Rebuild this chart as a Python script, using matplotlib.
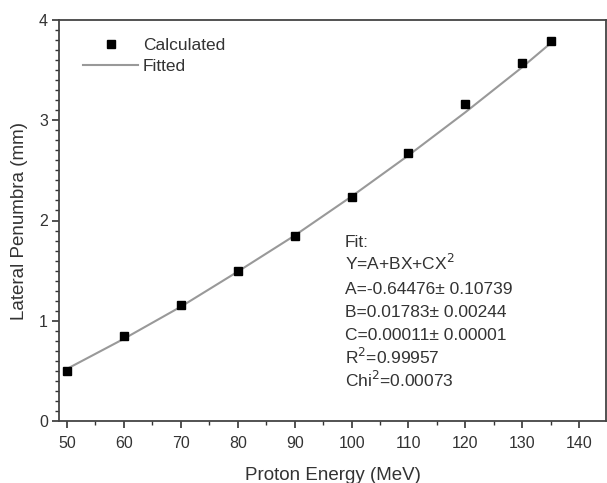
import numpy as np
import matplotlib; matplotlib.use("Agg"); import matplotlib.pyplot as plt
from matplotlib.ticker import MultipleLocator
from matplotlib.lines import Line2D

plt.rcParams["font.family"] = ["Liberation Sans", "DejaVu Sans"]

# calculated points
energy = [50, 60, 70, 80, 90, 100, 110, 120, 130, 135]
penumbra = [0.50, 0.85, 1.16, 1.50, 1.85, 2.23, 2.67, 3.16, 3.57, 3.79]
# fitted curve
fit_e = [50, 60, 70, 80, 90, 100, 110, 120, 130, 135]
fit_p = [0.52, 0.82, 1.14, 1.49, 1.85, 2.24, 2.65, 3.08, 3.53, 3.77]
fit_lines = ["Fit:", r"Y=A+BX+CX$^2$", "A=-0.64476\u00b1 0.10739", "B=0.01783\u00b1 0.00244",
             "C=0.00011\u00b1 0.00001", r"R$^2$=0.99957", r"Chi$^2$=0.00073"]

W, H = 607, 483
fig = plt.figure(figsize=(W/100, H/100), dpi=100)
ax = fig.add_axes([59/W, 1-421/H, 547/W, 401/H])
tc = "#333333"
ax.plot(fit_e, fit_p, color="#999999", lw=1.5, zorder=2)
ax.plot(energy, penumbra, "s", color="black", ms=5.5, zorder=3)
ax.set_xlim(48.6, 144.7); ax.set_ylim(0, 4)
ax.xaxis.set_major_locator(MultipleLocator(10)); ax.xaxis.set_minor_locator(MultipleLocator(5))
ax.yaxis.set_major_locator(MultipleLocator(1)); ax.yaxis.set_minor_locator(MultipleLocator(0.1))
ax.tick_params(which="major", direction="out", length=5, width=1.2, labelsize=11.5, colors=tc, pad=3)
ax.tick_params(axis="x", which="major", pad=6)
ax.tick_params(which="minor", direction="out", length=3, width=1, colors=tc)
for s in ax.spines.values():
    s.set_linewidth(1.3); s.set_color("#444444")
ax.set_xlabel("Proton Energy (MeV)", fontsize=13.5, color=tc, labelpad=11)
ax.set_ylabel("Lateral Penumbra (mm)", fontsize=13.5, color=tc, labelpad=8)

handles = [Line2D([], [], marker="s", ls="none", color="black", ms=6),
           Line2D([], [], color="#999999", lw=1.5)]
ax.legend(handles, ["Calculated", "Fitted"], loc="upper left", bbox_to_anchor=(0.015, 0.995),
          frameon=False, fontsize=12.5, labelcolor=tc, handlelength=3.2, handletextpad=0.25,
          labelspacing=0.35)

for i, t in enumerate(fit_lines):
    fig.text(345/W, 1-(247+i*23.3)/H, t, fontsize=12.5, color=tc, va="baseline")

fig.savefig("out.png", dpi=100)
